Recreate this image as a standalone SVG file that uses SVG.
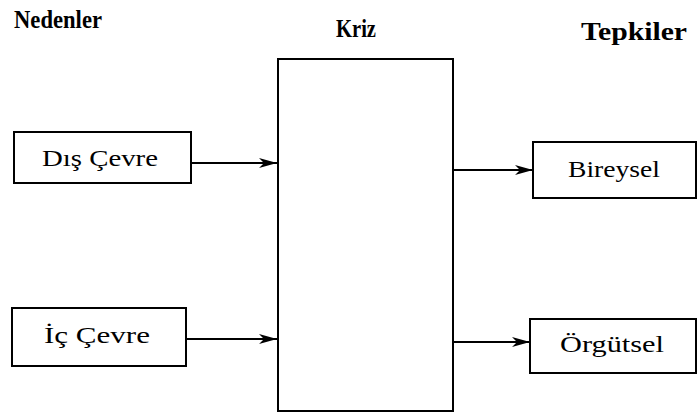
<svg xmlns="http://www.w3.org/2000/svg" width="698" height="418" viewBox="0 0 698 418">
<defs>
<style>
.box{fill:#fff;stroke:#000;stroke-width:2}
.t{font-family:"Liberation Serif","DejaVu Serif",serif;font-size:23px;fill:#000;text-anchor:middle}
.h{font-family:"Liberation Serif","DejaVu Serif",serif;font-size:26px;font-weight:bold;fill:#000;text-anchor:middle}
.c{stroke:#000;stroke-width:2;fill:none}
</style>
<marker id="ah" viewBox="0 0 18 12" refX="18" refY="6" markerWidth="18" markerHeight="12" markerUnits="userSpaceOnUse" orient="auto">
<path d="M0,1 L18,6 L0,11 L5,6 Z" fill="#000"/>
</marker>
</defs>
<rect width="698" height="418" fill="#fff"/>
<g id="titles">
<text class="h" x="58" y="28" textLength="88" lengthAdjust="spacingAndGlyphs">Nedenler</text>
<text class="h" x="356" y="37" textLength="40" lengthAdjust="spacingAndGlyphs">Kriz</text>
<text class="h" x="634" y="40" textLength="106" lengthAdjust="spacingAndGlyphs">Tepkiler</text>
</g>
<g id="kriz">
<rect class="box" x="278" y="59" width="175" height="352"/>
</g>
<g id="dis-cevre">
<rect class="box" x="14" y="132" width="177" height="51"/>
<text class="t" x="100" y="166" textLength="116" lengthAdjust="spacingAndGlyphs">Dış Çevre</text>
</g>
<g id="ic-cevre">
<rect class="box" x="12" y="308" width="174" height="58"/>
<text class="t" x="97" y="343" textLength="106" lengthAdjust="spacingAndGlyphs">İç Çevre</text>
</g>
<g id="bireysel">
<rect class="box" x="533" y="142" width="163" height="56"/>
<text class="t" x="614" y="177" textLength="92" lengthAdjust="spacingAndGlyphs">Bireysel</text>
</g>
<g id="orgutsel">
<rect class="box" x="530" y="319" width="166" height="54"/>
<text class="t" x="612" y="352" textLength="104" lengthAdjust="spacingAndGlyphs">Örgütsel</text>
</g>
<g id="connectors">
<line class="c" x1="191" y1="163" x2="277" y2="163" marker-end="url(#ah)"/>
<line class="c" x1="186" y1="339" x2="277" y2="339" marker-end="url(#ah)"/>
<line class="c" x1="453" y1="170" x2="533" y2="170" marker-end="url(#ah)"/>
<line class="c" x1="453" y1="342" x2="530" y2="342" marker-end="url(#ah)"/>
</g>
</svg>
